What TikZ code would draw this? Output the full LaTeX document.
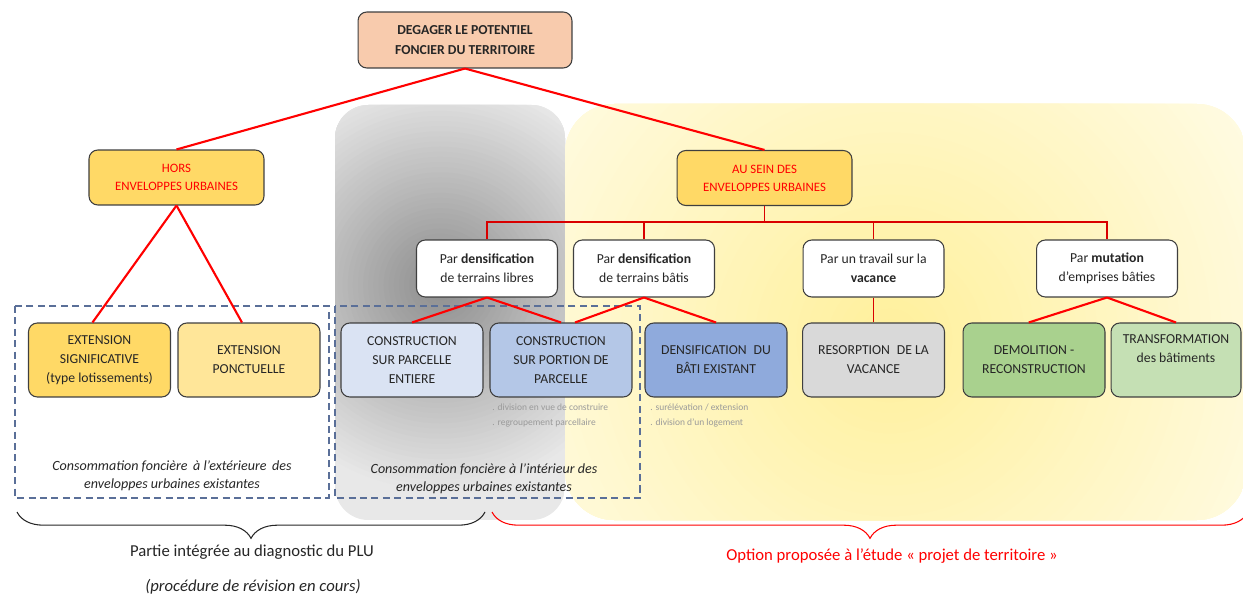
\documentclass[tikz,border=0pt]{standalone}
\usepackage{fontspec}
\setmainfont{Carlito}
\usetikzlibrary{decorations.pathreplacing}
\definecolor{peach}{HTML}{F8CBAD}
\definecolor{gold}{HTML}{FFD966}
\definecolor{lightgold}{HTML}{FFE699}
\definecolor{blueA}{HTML}{DAE3F3}
\definecolor{blueB}{HTML}{B4C7E7}
\definecolor{blueC}{HTML}{8FAADC}
\definecolor{grayBox}{HTML}{D9D9D9}
\definecolor{greenA}{HTML}{A9D18E}
\definecolor{greenB}{HTML}{C5E0B4}
\definecolor{boxborder}{HTML}{3F3F3F}
\definecolor{txt}{HTML}{262626}
\definecolor{dashcol}{HTML}{5A6F98}
\definecolor{pured}{HTML}{FF0000}
\definecolor{smallgray}{HTML}{9A9A9A}
\definecolor{bgGrayOut}{HTML}{E8E8E8}
\definecolor{bgGrayIn}{HTML}{8E8E8E}
\definecolor{bgYelOut}{HTML}{FFFBE3}
\definecolor{bgYelIn}{HTML}{FFF09C}
\begin{document}
\begin{tikzpicture}[x=0.02cm,y=-0.02cm,
  box/.style={draw=boxborder, line width=0.6pt, rounded corners=5pt, align=center, text=txt, inner sep=1pt, font=\fontsize{7.8}{10.8}\selectfont},
  bottombox/.style={box, minimum width=2.84cm, minimum height=1.48cm},
  parbox/.style={box, fill=white, minimum width=2.82cm, minimum height=1.14cm},
  headbox/.style={box, fill=gold, text=pured, minimum width=3.5cm, minimum height=1.1cm, font=\fontsize{7.3}{10.2}\selectfont},
  redthick/.style={draw=pured, line width=1.2pt},
  redthin/.style={draw=pured!85!black, line width=0.7pt},
  dashbox/.style={draw=dashcol, line width=0.7pt, dash pattern=on 4pt off 2.5pt},
  note/.style={align=center, text=txt, font=\fontsize{8}{10.3}\selectfont\itshape},
  small/.style={align=left, text=smallgray, font=\fontsize{5.4}{8.5}\selectfont, inner sep=0pt, anchor=north west}
]
\useasboundingbox (0,0) rectangle (1243,594);
% gray background region (stepped radial glow)
\begin{scope}
  \clip[rounded corners=19pt] (335,105) rectangle (565,520);
  \fill[bgGrayOut] (335,105) rectangle (565,520);
  \foreach \i in {0,...,40}{
    \pgfmathsetmacro\rr{4.2*(1-\i/41)}
    \pgfmathsetmacro\pp{100*\i/40}
    \fill[bgGrayIn!\pp!bgGrayOut] (440,285) circle[radius=\rr cm];
  }
\end{scope}
% yellow background region (stepped radial glow)
\begin{scope}
  \clip[rounded corners=28pt] (565,104) rectangle (1246,520);
  \fill[bgYelOut] (565,104) rectangle (1246,520);
  \foreach \i in {0,...,40}{
    \pgfmathsetmacro\rr{8.5*(1-\i/41)}
    \pgfmathsetmacro\pp{100*\i/40}
    \fill[bgYelIn!\pp!bgYelOut] (890,340) circle[radius=\rr cm];
  }
\end{scope}
% dashed frames
\draw[dashbox] (15,306) rectangle (329,498);
\draw[dashbox] (335,306) rectangle (640,498);
% top
\node[box, fill=peach, minimum width=4.28cm, minimum height=1.12cm, font=\fontsize{7.8}{11.4}\selectfont\bfseries] (top) at (465,40) {DEGAGER LE POTENTIEL\\FONCIER DU TERRITOIRE};
\node[headbox] (hors) at (176.5,177.5) {HORS\\ENVELOPPES URBAINES};
\node[headbox] (ausein) at (764.5,178) {AU SEIN DES\\ENVELOPPES URBAINES};
% Par boxes
\node[parbox] (libres) at (487,268.5) {Par \textbf{densification}\\de terrains libres};
\node[parbox] (batis) at (644,268.5) {Par \textbf{densification}\\de terrains bâtis};
\node[parbox] (vacance) at (873.5,268.5) {Par un travail sur la\\\textbf{vacance}};
\node[parbox] (mutation) at (1107,268.5) {Par \textbf{mutation}\\d’emprises bâties};
% bottom boxes
\node[bottombox, fill=gold] (extsig) at (99.5,360) {EXTENSION\\SIGNIFICATIVE\\(type lotissements)};
\node[bottombox, fill=lightgold] (extponc) at (249,360) {EXTENSION\\PONCTUELLE};
\node[bottombox, fill=blueA] (entiere) at (412,360) {CONSTRUCTION\\SUR PARCELLE\\ENTIERE};
\node[bottombox, fill=blueB] (portion) at (561,360) {CONSTRUCTION\\SUR PORTION DE\\PARCELLE};
\node[bottombox, fill=blueC] (densif) at (716,360) {DENSIFICATION\enspace DU\\BÂTI EXISTANT};
\node[bottombox, fill=grayBox] (resorp) at (873.5,360) {RESORPTION\enspace DE LA\\VACANCE};
\node[bottombox, fill=greenA] (demol) at (1034,360) {DEMOLITION -\\RECONSTRUCTION};
\node[bottombox, fill=greenB, minimum width=2.6cm] (transf) at (1176,360) {TRANSFORMATION\\des bâtiments\\[2pt]};
% connectors
\draw[redthick] (top.south) -- (hors.north);
\draw[redthick] (top.south) -- (ausein.north);
\draw[redthick] (hors.south) -- ([xshift=-4pt]extsig.north);
\draw[redthick] (hors.south) -- ([xshift=-4pt]extponc.north);
\coordinate (barY) at (0,222);
\draw[redthin] (ausein.south) -- (ausein.south |- barY);
\draw[redthin] (libres.north) -- (libres.north |- barY) -- (mutation.north |- barY) -- (mutation.north);
\draw[redthin] (batis.north |- barY) -- (batis.north);
\draw[redthin] (vacance.north |- barY) -- (vacance.north);
\draw[redthin] (vacance.south) -- (resorp.north);
\draw[redthick] (libres.south) -- (entiere.north);
\draw[redthick] (libres.south) -- (portion.north);
\draw[redthick] (batis.south) -- ([xshift=8pt]portion.north);
\draw[redthick] (batis.south) -- (densif.north);
\draw[redthick] (mutation.south) -- ([xshift=-3pt]demol.north);
\draw[redthick] (mutation.south) -- (transf.north);
% small notes
\node[small] (n1) at (492,404) {. division en vue de construire\\. regroupement parcellaire};
\node[small] (n2) at (650,404) {. surélévation / extension\\. division d’un logement};
% italic notes
\node[note] (c1) at (172,476) {Consommation foncière\, à l’extérieure\, des\\enveloppes urbaines existantes};
\node[note] (c2) at (484,479) {Consommation foncière à l’intérieur des\\enveloppes urbaines existantes};
% braces
\draw[line width=0.6pt, draw=txt, decorate, decoration={brace, mirror, amplitude=15pt}] (17,512) -- (485,512);
\draw[line width=0.6pt, draw=pured, decorate, decoration={brace, mirror, amplitude=15pt}] (492,512) -- (1248,512);
\node[text=txt, font=\fontsize{9.5}{11}\selectfont] (t1) at (252,552) {Partie intégrée au diagnostic du PLU};
\node[text=txt, font=\fontsize{9.5}{11}\selectfont\itshape] (t2) at (253,587) {(procédure de révision en cours)};
\node[text=pured, font=\fontsize{9.5}{11}\selectfont] (t3) at (892,556) {Option proposée à l’étude « projet de territoire »};
\end{tikzpicture}
\end{document}
